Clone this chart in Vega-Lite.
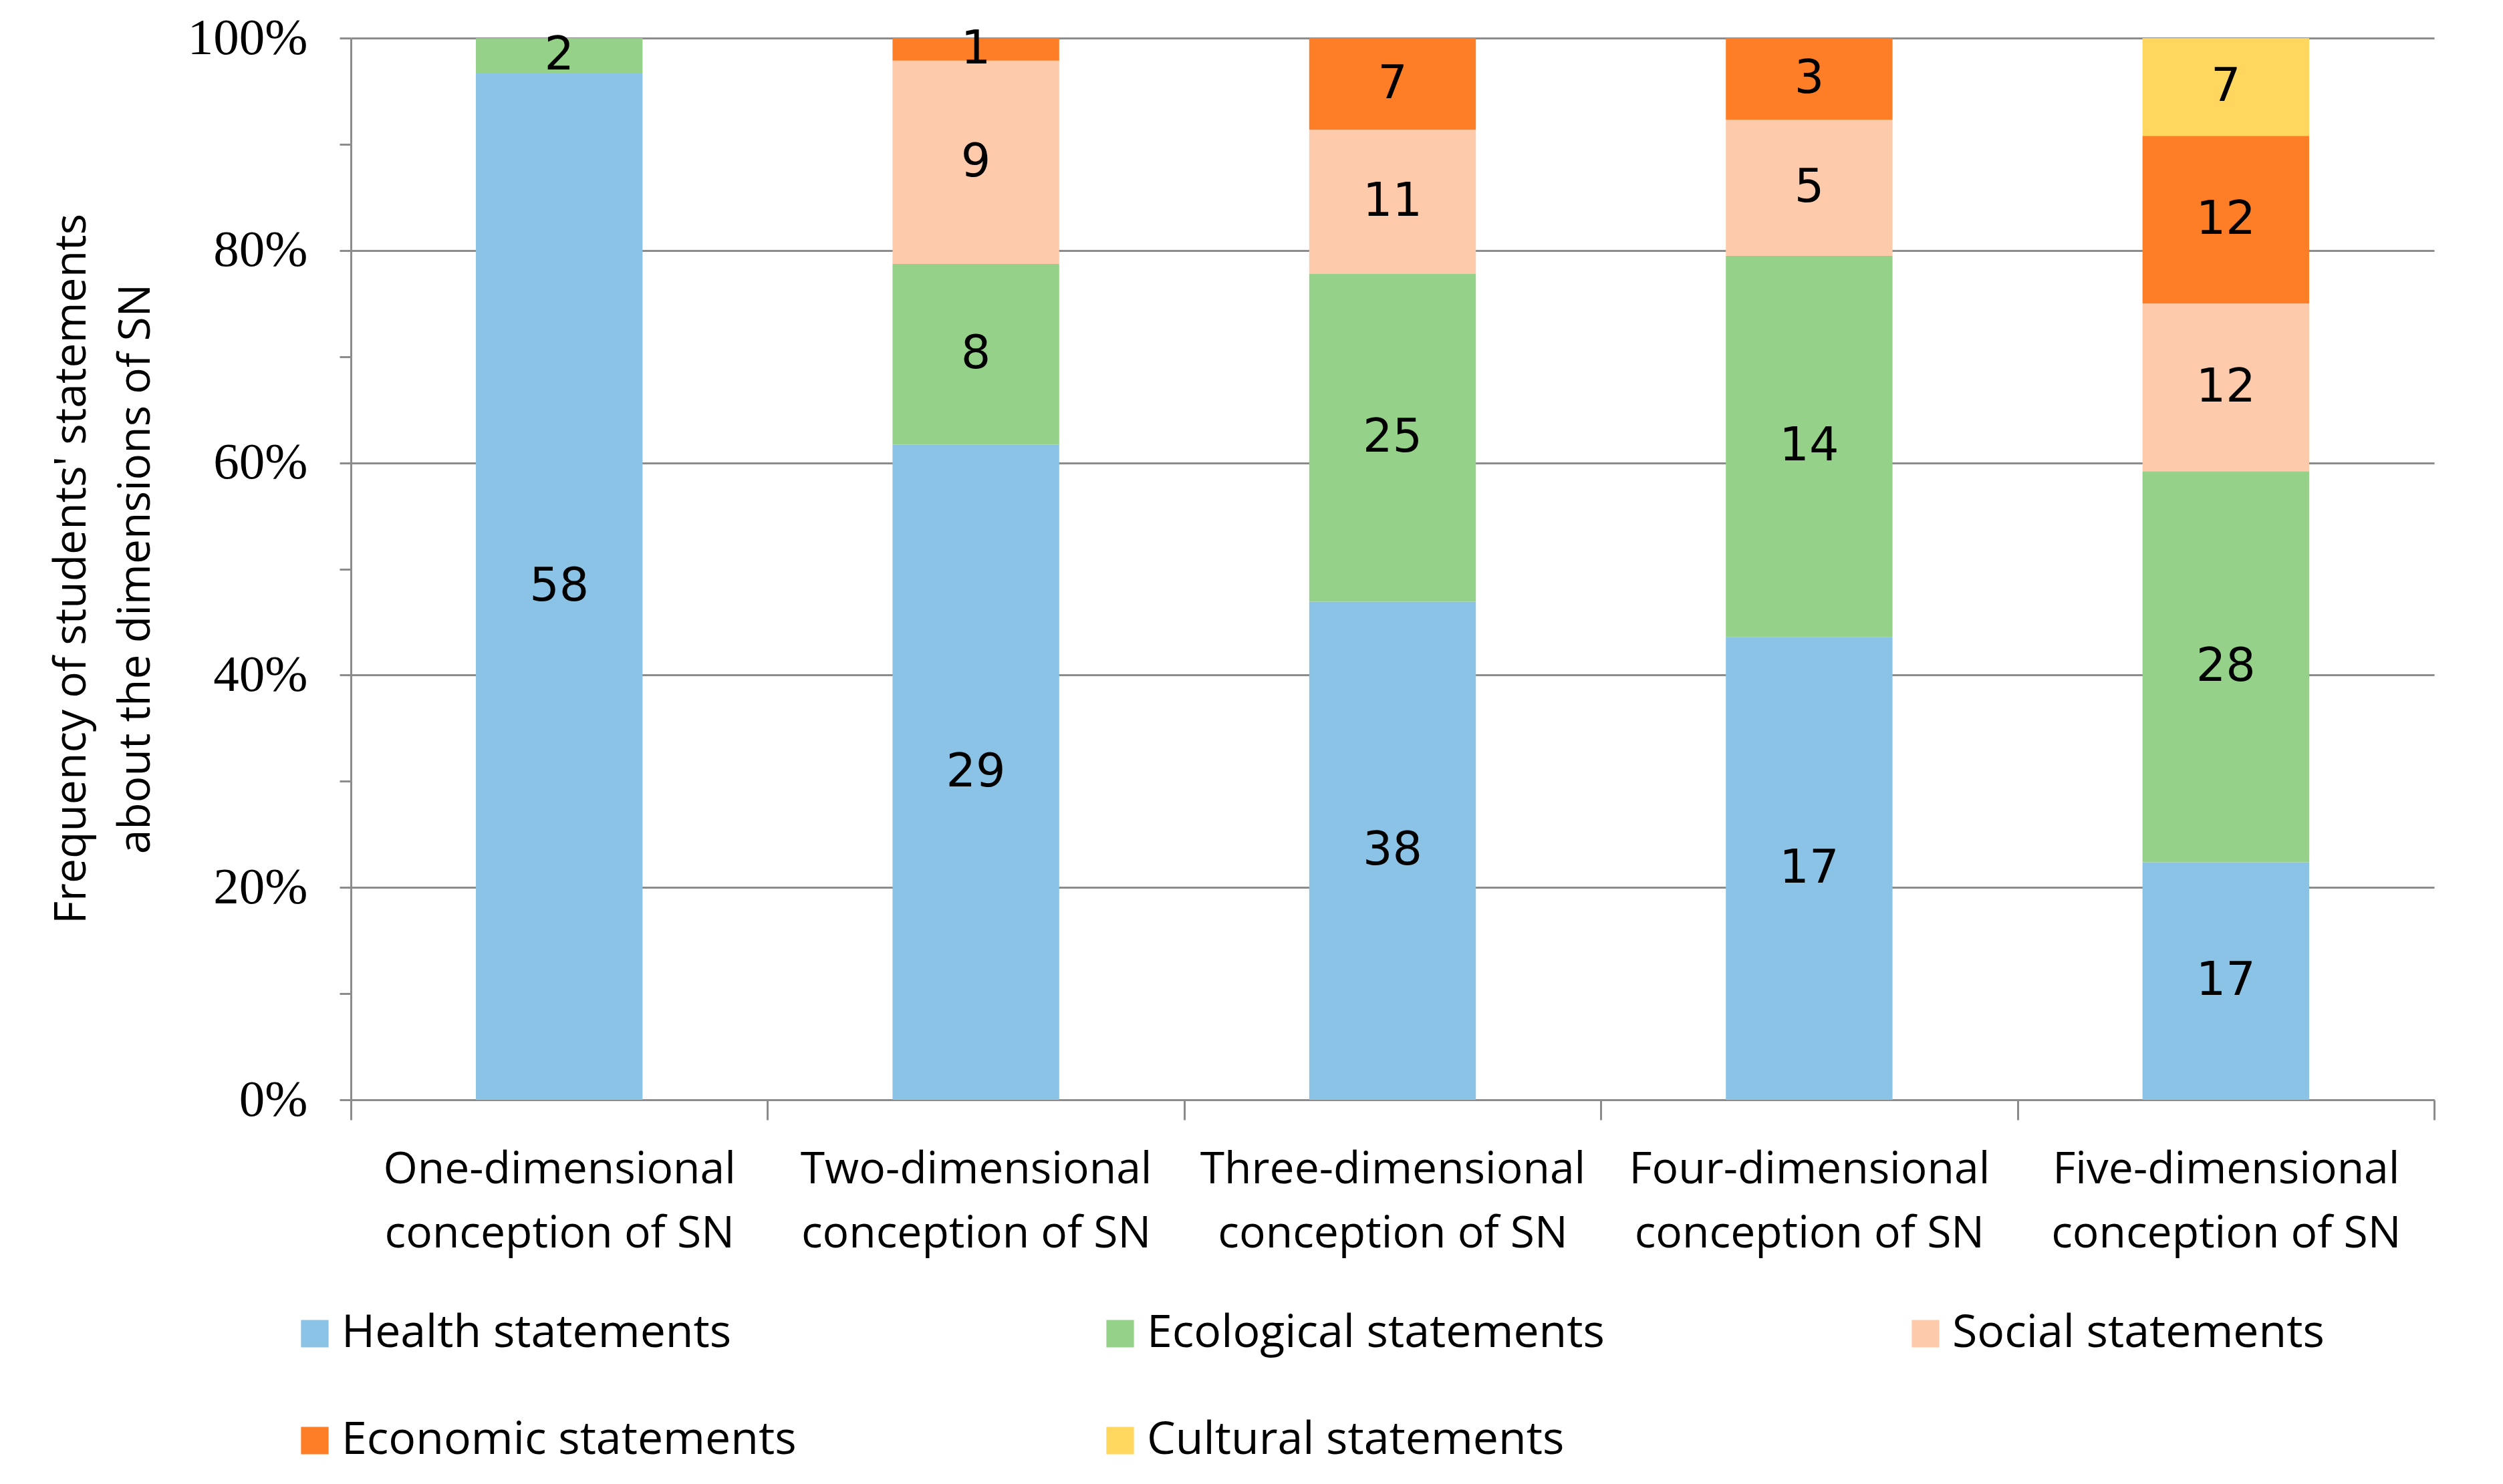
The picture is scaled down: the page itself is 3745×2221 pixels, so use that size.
{
  "$schema": "https://vega.github.io/schema/vega-lite/v6.json",
  "autosize": {"type": "none"},
  "width": 3117,
  "height": 1589,
  "padding": {"left": 525, "top": 57, "right": 103, "bottom": 575},
  "background": "white",
  "config": {"view": {"stroke": null}},
  "data": {"values": [
    {"conception": "One-dimensional conception of SN", "type": "Health statements", "count": 58},
    {"conception": "One-dimensional conception of SN", "type": "Ecological statements", "count": 2},
    {"conception": "Two-dimensional conception of SN", "type": "Health statements", "count": 29},
    {"conception": "Two-dimensional conception of SN", "type": "Ecological statements", "count": 8},
    {"conception": "Two-dimensional conception of SN", "type": "Social statements", "count": 9},
    {"conception": "Two-dimensional conception of SN", "type": "Economic statements", "count": 1},
    {"conception": "Three-dimensional conception of SN", "type": "Health statements", "count": 38},
    {"conception": "Three-dimensional conception of SN", "type": "Ecological statements", "count": 25},
    {"conception": "Three-dimensional conception of SN", "type": "Social statements", "count": 11},
    {"conception": "Three-dimensional conception of SN", "type": "Economic statements", "count": 7},
    {"conception": "Four-dimensional conception of SN", "type": "Health statements", "count": 17},
    {"conception": "Four-dimensional conception of SN", "type": "Ecological statements", "count": 14},
    {"conception": "Four-dimensional conception of SN", "type": "Social statements", "count": 5},
    {"conception": "Four-dimensional conception of SN", "type": "Economic statements", "count": 3},
    {"conception": "Five-dimensional conception of SN", "type": "Health statements", "count": 17},
    {"conception": "Five-dimensional conception of SN", "type": "Ecological statements", "count": 28},
    {"conception": "Five-dimensional conception of SN", "type": "Social statements", "count": 12},
    {"conception": "Five-dimensional conception of SN", "type": "Economic statements", "count": 12},
    {"conception": "Five-dimensional conception of SN", "type": "Cultural statements", "count": 7}
  ]},
  "transform": [
    {"calculate": "indexof(['Health statements','Ecological statements','Social statements','Economic statements','Cultural statements'], datum.type)", "as": "typeRank"}
  ],
  "encoding": {
    "x": {
      "field": "conception", "type": "nominal", "sort": null,
      "scale": {"paddingInner": 0, "paddingOuter": 0},
      "axis": {
        "title": null,
        "labelAngle": 0,
        "labelExpr": "indexof(datum.label + '', ' conception of SN') >= 0 ? [replace(datum.label, ' conception of SN', ''), 'conception of SN'] : ''",
        "labelFont": "Open Sans", "labelFontSize": 66, "labelColor": "black",
        "labelLineHeight": 96, "labelBaseline": "top", "labelPadding": 42,
        "labelLimit": 1000,
        "tickBand": "extent", "tickSize": 30, "tickColor": "#8c8c8c", "tickWidth": 3,
        "domainColor": "#8c8c8c", "domainWidth": 3, "grid": false
      }
    },
    "y": {
      "field": "count", "type": "quantitative", "stack": "normalize",
      "scale": {"domain": [0, 1]},
      "axis": {
        "title": ["Frequency of students' statements", "about the dimensions of SN"],
        "titleFont": "Open Sans", "titleFontSize": 66, "titleFontWeight": "normal", "titleColor": "black",
        "titleLineHeight": 96, "titleAngle": -90, "titleBaseline": "middle", "titleAlign": "center",
        "titleX": -418, "titleY": 794,
        "values": [0, 0.1, 0.2, 0.3, 0.4, 0.5, 0.6, 0.7, 0.8, 0.9, 1],
        "format": ".0%",
        "labelExpr": "round(datum.value * 10) % 2 === 0 ? datum.label : ''",
        "labelFont": "Liberation Serif", "labelFontSize": 77, "labelColor": "black", "labelPadding": 48,
        "labelLimit": 500,
        "tickSize": 17, "tickColor": "#8c8c8c", "tickWidth": 3,
        "domainColor": "#8c8c8c", "domainWidth": 3,
        "grid": true, "gridColor": "#8c8c8c", "gridWidth": 3,
        "gridOpacity": {"condition": {"test": "round(datum.value * 10) % 2 === 0", "value": 1}, "value": 0}
      }
    },
    "order": {"field": "typeRank", "type": "quantitative", "sort": "ascending"}
  },
  "layer": [
    {
      "mark": {"type": "bar", "width": {"band": 0.4}},
      "encoding": {
        "color": {
          "field": "type", "type": "nominal",
          "scale": {
            "domain": ["Health statements", "Ecological statements", "Social statements", "Economic statements", "Cultural statements"],
            "range": ["#8BC3E6", "#96D18A", "#FDCAAB", "#FE7D27", "#FFD75E"]
          },
          "legend": {
            "title": null, "orient": "none", "legendX": -88, "legendY": 1905,
            "direction": "horizontal", "columns": 3, "gridAlign": "all",
            "symbolType": "square", "symbolSize": 1700, "symbolStrokeWidth": 0,
            "labelFont": "Open Sans", "labelFontSize": 68, "labelColor": "black",
            "labelOffset": 6, "labelLimit": 1000,
            "rowPadding": 92, "columnPadding": 446
          }
        }
      }
    },
    {
      "mark": {"type": "text", "font": "DejaVu Sans", "fontSize": 70, "color": "black", "baseline": "middle"},
      "encoding": {
        "y": {"field": "count", "type": "quantitative", "stack": "normalize", "bandPosition": 0.5},
        "detail": {"field": "type", "type": "nominal"},
        "text": {"field": "count", "type": "quantitative"}
      }
    }
  ]
}
